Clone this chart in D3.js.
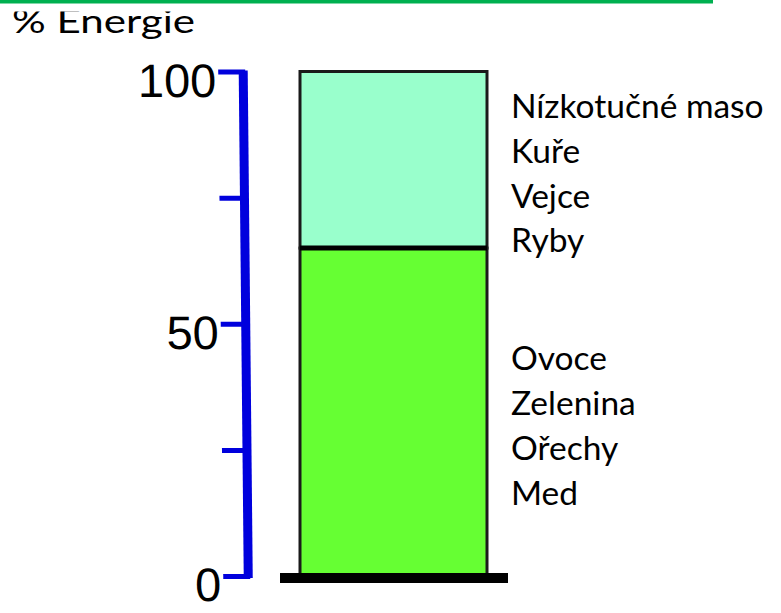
<!DOCTYPE html>
<html>
<head>
<meta charset="utf-8">
<style>
  body { margin: 0; background: #fff; }
  .tick text { font-family: "Liberation Sans", Arial, sans-serif; font-size: 47px; fill: #000; }
  .lbl { font-family: Lato, "Open Sans", sans-serif; font-size: 33.5px; fill: #000; }
  .title { font-family: Lato, "Open Sans", sans-serif; font-size: 33px; fill: #000; }
</style>
</head>
<body>
<svg width="781" height="613"></svg>
<script src="https://d3js.org/d3.v7.min.js"></script>
<script>

// data
var parts = ["rostlinne", "zivocisne"];
var values = [65, 35];               // % energie
var colors = ["#66ff33", "#99ffcc"];
var labelsTop = ["Nízkotučné maso", "Kuře", "Vejce", "Ryby"];
var labelsBottom = ["Ovoce", "Zelenina", "Ořechy", "Med"];
var tickVals = [0, 25, 50, 75, 100];
var tickShown = [0, 50, 100];

var svg = d3.select("svg"),
    width = +svg.attr("width"),
    height = +svg.attr("height");

var y = d3.scaleLinear().domain([0, 100]).range([576, 71.5]);
var x = d3.scaleBand().domain(["strava"]).range([300, 487]).padding(0);

// green rule at the top
svg.append("rect")
    .attr("x", 0).attr("y", 0)
    .attr("width", 713).attr("height", 3.5)
    .attr("fill", "#00b050");

// title, top cut off
svg.append("clipPath").attr("id", "cut")
  .append("rect").attr("x", 0).attr("y", 11.5).attr("width", 300).attr("height", 40);
svg.append("text")
    .attr("class", "title")
    .attr("clip-path", "url(#cut)")
    .attr("x", 12).attr("y", 33)
    .attr("textLength", 183)
    .attr("lengthAdjust", "spacingAndGlyphs")
    .text("% Energie");

// axis
var axis = d3.axisLeft(y)
    .tickValues(tickVals)
    .tickSize(25)
    .tickSizeOuter(0)
    .tickPadding(2)
    .tickFormat(function(d) { return tickShown.indexOf(d) >= 0 ? d : ""; });

var gAxis = svg.append("g")
    .attr("transform", "translate(242.5,0) skewX(0.57)")
    .call(axis);

gAxis.select(".domain")
    .attr("stroke", "#0000dd")
    .attr("stroke-width", 9)
    .attr("d", "M0," + (y(100) - 1) + "V" + (y(0) + 2));
gAxis.selectAll(".tick line")
    .attr("stroke", "#0000dd")
    .attr("stroke-width", 5)
    .attr("x1", 2);
gAxis.selectAll(".tick text")
    .attr("dy", "0.53em");

// stacked bar
var row = {};
parts.forEach(function(p, i) { row[p] = values[i]; });
var stack = d3.stack().keys(parts)([row]);

svg.append("g")
  .selectAll("rect")
  .data(stack)
  .enter().append("rect")
    .attr("x", x("strava"))
    .attr("width", x.bandwidth())
    .attr("y", function(d) { return y(d[0][1]); })
    .attr("height", function(d) { return y(d[0][0]) - y(d[0][1]); })
    .attr("fill", function(d, i) { return colors[i]; })
    .attr("stroke", "#1a1a1a")
    .attr("stroke-width", 3);

// divider between the two parts
svg.append("line")
    .attr("x1", x("strava")).attr("x2", x("strava") + x.bandwidth())
    .attr("y1", y(values[0])).attr("y2", y(values[0]))
    .attr("stroke", "#000")
    .attr("stroke-width", 5);

// base
svg.append("line")
    .attr("x1", x("strava") - 20).attr("x2", x("strava") + x.bandwidth() + 21)
    .attr("y1", y(0) + 2).attr("y2", y(0) + 2)
    .attr("stroke", "#000")
    .attr("stroke-width", 10);

// labels next to each part
var lh = 44.8;
function addLabels(list, lo, hi) {
  var mid = (y(lo) + y(hi)) / 2;
  svg.append("g")
    .selectAll("text")
    .data(list)
    .enter().append("text")
      .attr("class", "lbl")
      .attr("x", 511)
      .attr("y", function(d, i) { return mid + 25.5 + (i - 1.5) * lh; })
      .text(function(d) { return d; });
}
addLabels(labelsBottom, 0, values[0]);
addLabels(labelsTop, values[0], values[0] + values[1]);

</script>
</body>
</html>
